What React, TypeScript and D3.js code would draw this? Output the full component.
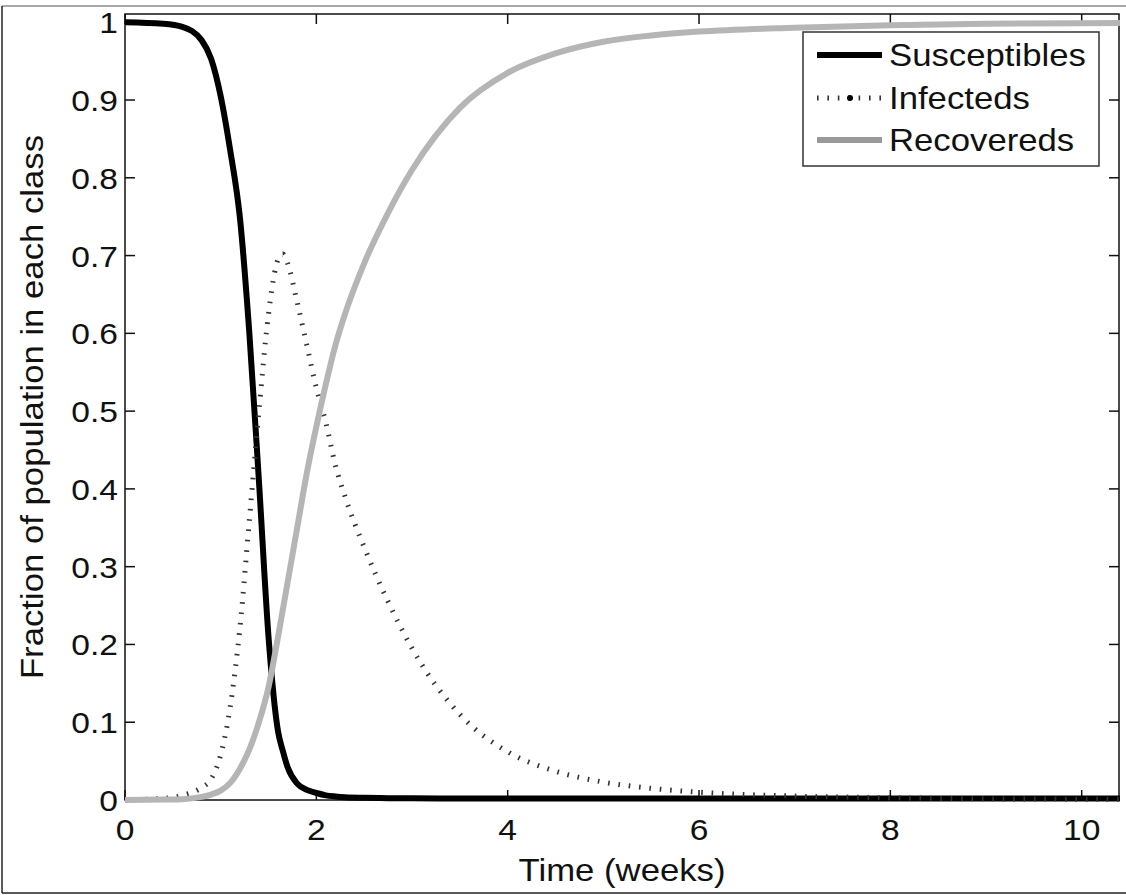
import React from "react";
import * as d3 from "d3";

// time grid (weeks) and the three class fractions
const times = [0, 0.4, 0.6, 0.8, 0.9, 1.0, 1.1, 1.2, 1.3, 1.4, 1.5, 1.6, 1.65, 1.7, 1.8, 1.9, 2.0, 2.1, 2.2, 2.3, 2.5, 2.75, 3.0, 3.5, 4.0, 4.5, 5.0, 5.5, 6.0, 7.0, 8.0, 9.0, 10.4];
const susceptibles = [1.0, 0.998, 0.994, 0.977, 0.953, 0.905, 0.835, 0.75, 0.6, 0.41, 0.21, 0.088, 0.063, 0.042, 0.021, 0.013, 0.009, 0.006, 0.0045, 0.0035, 0.0028, 0.0024, 0.0022, 0.002, 0.002, 0.002, 0.002, 0.002, 0.002, 0.002, 0.002, 0.002, 0.002];
const infecteds = [0.0005, 0.002, 0.006, 0.016, 0.027, 0.058, 0.12, 0.22, 0.36, 0.5, 0.625, 0.695, 0.702, 0.69, 0.64, 0.585, 0.53, 0.485, 0.43, 0.39, 0.325, 0.255, 0.195, 0.11, 0.062, 0.037, 0.023, 0.015, 0.01, 0.005, 0.003, 0.0015, 0.001];
const recovereds = [0, 0.0005, 0.001, 0.004, 0.007, 0.012, 0.022, 0.04, 0.065, 0.1, 0.145, 0.21, 0.245, 0.28, 0.35, 0.42, 0.48, 0.535, 0.585, 0.625, 0.69, 0.755, 0.81, 0.89, 0.935, 0.96, 0.975, 0.983, 0.988, 0.993, 0.996, 0.998, 0.999];

const xTicks = [0, 2, 4, 6, 8, 10];
const yTicks = [0, 0.1, 0.2, 0.3, 0.4, 0.5, 0.6, 0.7, 0.8, 0.9, 1];
const legendLabels = ["Susceptibles", "Infecteds", "Recovereds"];

const W = 1126;
const H = 895;
const plot = { left: 125, right: 1119, top: 14, bottom: 800 };
const FONT = "'Liberation Sans', Arial, Helvetica, sans-serif";
const STRETCH = 1.12;

const T = ({ x, y, rot = 0, anchor = "start", size = 30, children }: any) => (
  <text
    transform={`translate(${x},${y}) rotate(${rot}) scale(${STRETCH},1)`}
    textAnchor={anchor}
    fontSize={size}
    fontFamily={FONT}
    fill="#111"
  >
    {children}
  </text>
);

export default function App() {
  const x = d3.scaleLinear().domain([0, 10.39]).range([plot.left, plot.right]);
  const y = d3.scaleLinear().domain([0, 1.0106]).range([plot.bottom, plot.top]);

  const mk = (vals: number[]) =>
    d3
      .line<number>()
      .x((_, i) => x(times[i]))
      .y((d) => y(d))
      .curve(d3.curveMonotoneX)(vals) as string;

  const tickLen = 10;
  const legend = { x: 803, y: 32, w: 296, h: 134 };
  const rows = [55, 98, 140];

  return (
    <svg width={W} height={H} style={{ position: "absolute", left: 0, top: 0, background: "#fff" }}>
      {/* outer frame */}
      <line x1={2} y1={6} x2={W} y2={6} stroke="#555" strokeWidth={1.2} />
      <line x1={2} y1={6} x2={2} y2={893} stroke="#222" strokeWidth={1.5} />
      <line x1={2} y1={893} x2={W} y2={893} stroke="#222" strokeWidth={1.5} />

      {/* axes box */}
      <rect
        x={plot.left}
        y={plot.top}
        width={plot.right - plot.left}
        height={plot.bottom - plot.top}
        fill="none"
        stroke="#111"
        strokeWidth={1.5}
      />
      {xTicks.map((t) => (
        <g key={"xt" + t}>
          <line x1={x(t)} x2={x(t)} y1={plot.bottom} y2={plot.bottom - tickLen} stroke="#111" strokeWidth={1.5} />
          <line x1={x(t)} x2={x(t)} y1={plot.top} y2={plot.top + tickLen} stroke="#111" strokeWidth={1.5} />
          <T x={x(t)} y={840} anchor="middle">
            {t}
          </T>
        </g>
      ))}
      {yTicks.map((t) => (
        <g key={"yt" + t}>
          <line x1={plot.left} x2={plot.left + tickLen} y1={y(t)} y2={y(t)} stroke="#111" strokeWidth={1.5} />
          <line x1={plot.right} x2={plot.right - tickLen} y1={y(t)} y2={y(t)} stroke="#111" strokeWidth={1.5} />
          <T x={118} y={y(t) + 11} anchor="end">
            {String(t)}
          </T>
        </g>
      ))}

      {/* series */}
      <path d={mk(susceptibles)} fill="none" stroke="#000" strokeWidth={6} />
      <path d={mk(infecteds)} fill="none" stroke="#333" strokeWidth={5} strokeDasharray="1.6 8.8" />
      <path d={mk(recovereds)} fill="none" stroke="#b5b5b5" strokeWidth={6} />

      {/* axis labels */}
      <T x={(plot.left + plot.right) / 2} y={881} anchor="middle" size={31}>
        Time (weeks)
      </T>
      <T x={43} y={(plot.top + plot.bottom) / 2} rot={-90} anchor="middle" size={31}>
        Fraction of population in each class
      </T>

      {/* legend */}
      <rect x={legend.x} y={legend.y} width={legend.w} height={legend.h} fill="#fff" stroke="#333" strokeWidth={1.5} />
      <line x1={817} x2={882} y1={rows[0]} y2={rows[0]} stroke="#000" strokeWidth={6} />
      <line x1={817} x2={882} y1={rows[1]} y2={rows[1]} stroke="#333" strokeWidth={5} strokeDasharray="1.6 8.8" />
      <circle cx={850} cy={rows[1]} r={3} fill="#000" />
      <line x1={817} x2={882} y1={rows[2]} y2={rows[2]} stroke="#999" strokeWidth={6} />
      {legendLabels.map((l, i) => (
        <T key={l} x={889} y={rows[i] + 11} size={31}>
          {l}
        </T>
      ))}
    </svg>
  );
}
